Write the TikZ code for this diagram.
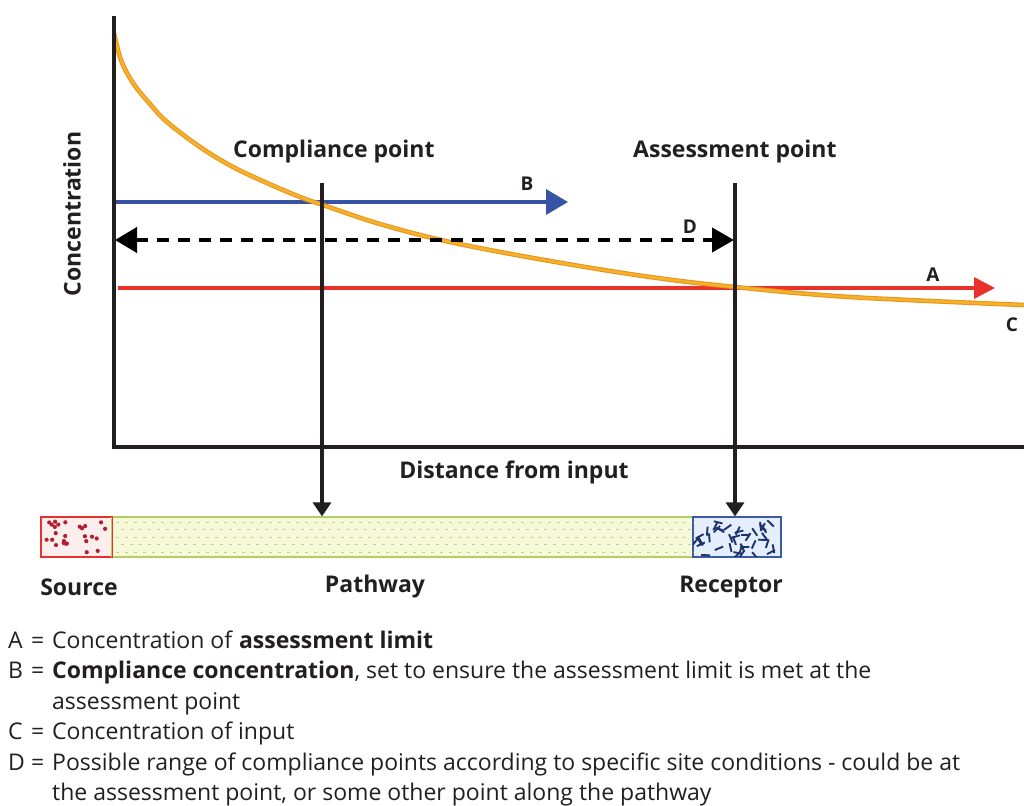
\documentclass[tikz,border=0pt]{standalone}
\usepackage{fontspec}
\setmainfont{Open Sans}
\usetikzlibrary{arrows.meta}
\definecolor{txt}{RGB}{35,31,32}
\definecolor{curvecol}{RGB}{244,178,40}
\definecolor{curveedge}{RGB}{234,146,32}
\definecolor{bluecol}{RGB}{57,83,164}
\definecolor{redcol}{RGB}{232,49,42}
\definecolor{srcfill}{RGB}{253,238,238}
\definecolor{srcdot}{RGB}{180,30,50}
\definecolor{pathfill}{RGB}{246,249,214}
\definecolor{pathedge}{RGB}{176,206,100}
\definecolor{pathdot}{RGB}{196,200,176}
\definecolor{recfill}{RGB}{228,238,252}
\definecolor{recdash}{RGB}{30,50,110}
\definecolor{recedge}{RGB}{60,90,170}
\tikzset{
  axisline/.style={line width=4pt, draw=txt},
  vline/.style={line width=3.2pt, draw=txt, -{Triangle[length=14pt,width=18pt]}},
  bline/.style={line width=3.5pt, draw=bluecol, -{Triangle[length=22pt,width=25pt]}},
  rline/.style={line width=3.5pt, draw=redcol, -{Triangle[length=21pt,width=21pt]}},
  dline/.style={line width=4pt, draw=black, dash pattern=on 12pt off 9pt,
    {Triangle[length=22pt,width=25pt]}-{Triangle[length=22pt,width=24pt]}},
  lab/.style={font=\fontsize{23}{26}\selectfont\bfseries, text=txt, inner sep=0pt},
  letter/.style={font=\fontsize{19}{22}\selectfont\bfseries, text=txt, inner sep=0pt},
  legend/.style={font=\fontsize{23}{26}\selectfont, text=txt, inner sep=0pt, anchor=base west},
  barbox/.style={minimum height=40pt, inner sep=0pt, line width=1.2pt}
}
\begin{document}
\begin{tikzpicture}[x=1pt,y=-1pt]
\useasboundingbox (0,0) rectangle (1024,805);
\fill[white] (0,0) rectangle (1024,805);

% bar
\node[barbox, draw=redcol, fill=srcfill, minimum width=71pt] (source) at (76.5,537) {};
\node[barbox, draw=pathedge, fill=pathfill, minimum width=581pt] (path) at (402.5,537) {};
\node[barbox, draw=recedge, fill=recfill, minimum width=88pt] (receptor) at (737,537) {};
\begin{scope}
  \clip (path.south west) rectangle (path.north east);
  \foreach \r in {0,...,4} {
    \foreach \c in {0,...,64} {
      \pgfmathsetmacro\xx{116+\c*9+mod(\r,2)*4.5}
      \pgfmathsetmacro\yy{522+\r*7.5}
      \draw[pathdot, line width=1pt] (\xx,\yy) -- ++(3,0);
    }
  }
\end{scope}
\begin{scope}
  \clip (source.south west) rectangle (source.north east);
  \pgfmathsetseed{11}
  \foreach \i in {1,...,26} {
    \pgfmathsetmacro\xx{44+rnd*65}
    \pgfmathsetmacro\yy{520+rnd*34}
    \fill[srcdot] (\xx,\yy) circle (2.1pt);
  }
\end{scope}
\begin{scope}
  \clip (receptor.south west) rectangle (receptor.north east);
  \pgfmathsetseed{5}
  \foreach \i in {1,...,42} {
    \pgfmathsetmacro\xx{694+rnd*82}
    \pgfmathsetmacro\yy{519+rnd*36}
    \pgfmathsetmacro\aa{rnd*180}
    \draw[recdash, line width=1.9pt] (\xx,\yy) -- ++(\aa:9);
  }
\end{scope}
\draw[draw=redcol, line width=1.2pt] (source.south west) rectangle (source.north east);
\draw[draw=recedge, line width=1.2pt] (receptor.south west) rectangle (receptor.north east);

% horizontal lines
\coordinate (B0) at (114,202);
\coordinate (B1) at (568,202);
\coordinate (R0) at (118,288);
\coordinate (R1) at (995,288);
\draw[rline] (R0) -- (R1);
\draw[bline] (B0) -- (B1);

% curve
\def\curvepts{(114,33) (121,60) (133,83) (150,104) (167,122) (200,147) (233,167) (267,183) (300,197) (323,205) (380,224) (450,242) (550,261) (650,277) (735,287) (850,297) (1024,305)}
\draw[curveedge, line width=4.6pt] plot[smooth, tension=0.6] coordinates {\curvepts};
\draw[curvecol, line width=2.6pt] plot[smooth, tension=0.6] coordinates {\curvepts};

% dashed D
\coordinate (D0) at (115,240);
\coordinate (D1) at (734,240);
\draw[dline] (D0) -- (D1);

% axes
\coordinate (Ytop) at (114,16);
\coordinate (O) at (114,447);
\coordinate (Xend) at (1024,447);
\draw[axisline] (Ytop) -- (O) -- (Xend);

% vertical lines
\coordinate (cpTop) at (322,183);
\coordinate (apTop) at (735,183);
\draw[vline] (cpTop) -- (cpTop |- path.north);
\draw[vline] (apTop) -- (apTop |- receptor.north);

% labels
\node[lab, rotate=90] (conc) at (72,214) {Concentration};
\node[lab, anchor=west] (cpl) at (233,152) {Compliance point};
\node[lab, anchor=west] (apl) at (633,152) {Assessment point};
\node[lab] (dist) at (514,472) {Distance from input};
\node[letter] (lB) at (527,184) {B};
\node[letter] (lD) at (690,227) {D};
\node[letter] (lA) at (933,275) {A};
\node[letter] (lC) at (1012,325) {C};
\node[lab] (srcl) at (79,587) {Source};
\node[lab] (pathl) at (375,587) {Pathway};
\node[lab] (recl) at (731,587) {Receptor};

% legend
\node[legend] (gA) at (8,648) {\makebox[23pt][l]{A}\makebox[21pt][l]{=}Concentration of \textbf{assessment limit}};
\node[legend] (gB) at (8,678.5) {\makebox[23pt][l]{B}\makebox[21pt][l]{=}\textbf{Compliance concentration}, set to ensure the assessment limit is met at the};
\node[legend] (gB2) at (52,709) {assessment point};
\node[legend] (gC) at (8,739.5) {\makebox[23pt][l]{C}\makebox[21pt][l]{=}Concentration of input};
\node[legend] (gD) at (8,770) {\makebox[23pt][l]{D}\makebox[21pt][l]{=}Possible range of compliance points according to specific site conditions - could be at};
\node[legend] (gD2) at (52,800) {the assessment point, or some other point along the pathway};
\end{tikzpicture}
\end{document}
